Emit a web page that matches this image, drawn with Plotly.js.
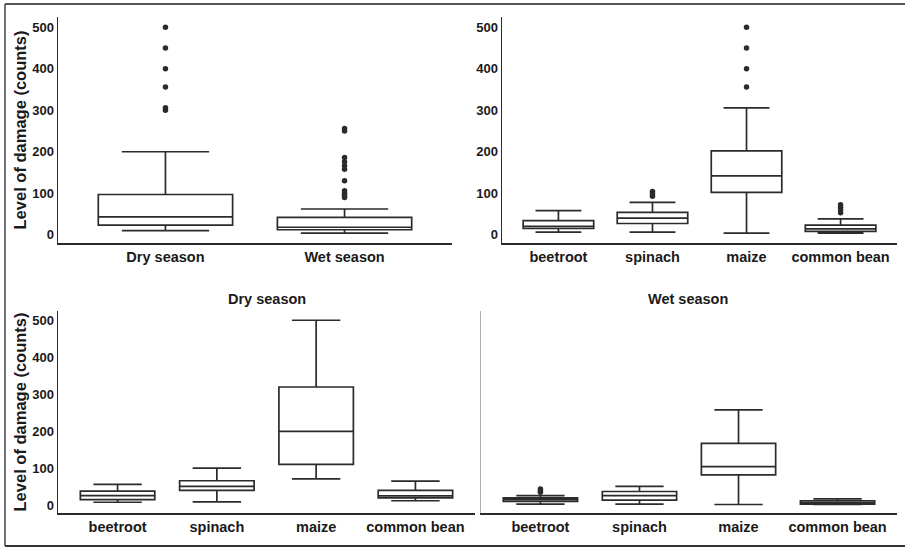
<!DOCTYPE html>
<html><head><meta charset="utf-8">
<script src="https://cdn.plot.ly/plotly-3.0.1.min.js"></script>
<style>html,body{margin:0;padding:0;background:#fff}#chart{width:905px;height:548px}</style>
</head><body><div id="chart"></div>
<script>
// ---- data ----
const seasons = ["Dry season", "Wet season"];
const seasonQ1 = [23, 12];
const seasonMedian = [43, 18];
const seasonQ3 = [97, 42];
const seasonLower = [10, 4];
const seasonUpper = [200, 62];
const seasonOutX = ["Dry season","Dry season","Dry season","Dry season","Dry season","Dry season",
  "Wet season","Wet season","Wet season","Wet season","Wet season","Wet season","Wet season","Wet season","Wet season","Wet season","Wet season"];
const seasonOutY = [500, 450, 400, 356, 306, 300,
  256, 250, 186, 176, 166, 158, 130, 106, 100, 95, 90];

const crops = ["beetroot", "spinach", "maize", "common bean"];
const cropQ1 = [15, 27, 102, 8];
const cropMedian = [20, 40, 142, 14];
const cropQ3 = [34, 54, 202, 23];
const cropLower = [6, 6, 4, 4];
const cropUpper = [58, 78, 306, 38];
const cropOutX = ["spinach","spinach","spinach","maize","maize","maize","maize",
  "common bean","common bean","common bean","common bean"];
const cropOutY = [104, 99, 93, 500, 450, 400, 356, 72, 66, 60, 53];

const dryQ1 = [16, 41, 111, 21];
const dryMedian = [27, 52, 200, 26];
const dryQ3 = [39, 67, 320, 41];
const dryLower = [9, 10, 72, 13];
const dryUpper = [57, 101, 500, 66];

const wetQ1 = [11, 15, 83, 4];
const wetMedian = [16, 27, 105, 8];
const wetQ3 = [21, 38, 168, 13];
const wetLower = [4, 4, 3, 3];
const wetUpper = [27, 52, 258, 18];
const wetOutX = ["beetroot", "beetroot", "beetroot"];
const wetOutY = [45, 40, 36];

const yTicks = [0, 100, 200, 300, 400, 500];
const yTitle = "Level of damage (counts)";
const panelTitles = ["Dry season", "Wet season"];

// ---- styling ----
const FONT = "Liberation Sans, Arial, sans-serif";
const INK = "#2b2b2b";
const W = 905, H = 548;
const px = v => v / W, py = v => (H - v) / H;

function boxTrace(x, q1, med, q3, lo, hi, xa, ya) {
  return {type: "box", x: x, q1: q1, median: med, q3: q3, lowerfence: lo, upperfence: hi,
    xaxis: xa, yaxis: ya, width: 0.75, whiskerwidth: 0.65, boxpoints: false,
    fillcolor: "#ffffff", line: {color: INK, width: 1.7}, showlegend: false, hoverinfo: "skip"};
}
function outTrace(x, y, xa, ya) {
  return {type: "scatter", mode: "markers", x: x, y: y, xaxis: xa, yaxis: ya,
    marker: {color: INK, size: 5.5}, showlegend: false, hoverinfo: "skip"};
}

const traces = [
  boxTrace(seasons, seasonQ1, seasonMedian, seasonQ3, seasonLower, seasonUpper, "x", "y"),
  outTrace(seasonOutX, seasonOutY, "x", "y"),
  boxTrace(crops, cropQ1, cropMedian, cropQ3, cropLower, cropUpper, "x2", "y2"),
  outTrace(cropOutX, cropOutY, "x2", "y2"),
  boxTrace(crops, dryQ1, dryMedian, dryQ3, dryLower, dryUpper, "x3", "y3"),
  boxTrace(crops, wetQ1, wetMedian, wetQ3, wetLower, wetUpper, "x4", "y4"),
  outTrace(wetOutX, wetOutY, "x4", "y4")
];

function xAxis(cats, domain, anchor) {
  return {domain: domain, anchor: anchor, type: "category", categoryorder: "array", categoryarray: cats,
    range: [-0.6, cats.length - 0.4], showline: true, linecolor: INK, linewidth: 1.5,
    ticks: "", showgrid: false, zeroline: false, fixedrange: true,
    tickfont: {family: FONT, size: 14.5, color: "#1a1a1a", weight: "bold"}};
}
function yAxis(domain, anchor, labels, title, lineColor, lineWidth) {
  return {domain: domain, anchor: anchor, range: [-20, 525], tickvals: yTicks,
    showticklabels: labels, showline: true, linecolor: lineColor, linewidth: lineWidth,
    ticks: "", showgrid: false, zeroline: false, fixedrange: true, ticklabelstandoff: 0,
    tickfont: {family: FONT, size: 13, color: "#1a1a1a", weight: "bold"},
    title: title ? {text: title, standoff: 1, font: {family: FONT, size: 16.5, color: "#1a1a1a", weight: "bold"}} : {text: ""}};
}

const topY = [py(243), py(17)];
const botY = [py(513), py(311)];

const layout = {
  width: W, height: H, margin: {l: 0, r: 0, t: 0, b: 0},
  paper_bgcolor: "#ffffff", plot_bgcolor: "rgba(0,0,0,0)", showlegend: false,
  xaxis: xAxis(seasons, [px(58), px(452)], "y"),
  yaxis: yAxis(topY, "x", true, yTitle, INK, 1.5),
  xaxis2: xAxis(crops, [px(502), px(897)], "y2"),
  yaxis2: yAxis(topY, "x2", true, "", INK, 1.5),
  xaxis3: xAxis(crops, [px(58), px(475)], "y3"),
  yaxis3: yAxis(botY, "x3", true, yTitle, INK, 1.5),
  xaxis4: xAxis(crops, [px(481), px(897)], "y4"),
  yaxis4: yAxis(botY, "x4", false, "", "#b0b0b0", 1.2),
  annotations: [
    {text: panelTitles[0], xref: "paper", yref: "paper", x: px(267), y: py(299), xanchor: "center", yanchor: "middle",
      showarrow: false, font: {family: FONT, size: 14.5, color: "#1a1a1a", weight: "bold"}},
    {text: panelTitles[1], xref: "paper", yref: "paper", x: px(688), y: py(299), xanchor: "center", yanchor: "middle",
      showarrow: false, font: {family: FONT, size: 14.5, color: "#1a1a1a", weight: "bold"}}
  ],
  shapes: [
    {type: "line", xref: "paper", yref: "paper", x0: px(5), x1: 1, y0: py(4), y1: py(4), line: {color: "#555", width: 2}},
    {type: "line", xref: "paper", yref: "paper", x0: px(5), x1: 1, y0: py(546), y1: py(546), line: {color: "#333", width: 2}},
    {type: "line", xref: "paper", yref: "paper", x0: px(5), x1: px(5), y0: py(4), y1: py(546), line: {color: "#444", width: 1.5}}
  ]
};

Plotly.newPlot("chart", traces, layout, {staticPlot: true, displayModeBar: false});
</script></body></html>
